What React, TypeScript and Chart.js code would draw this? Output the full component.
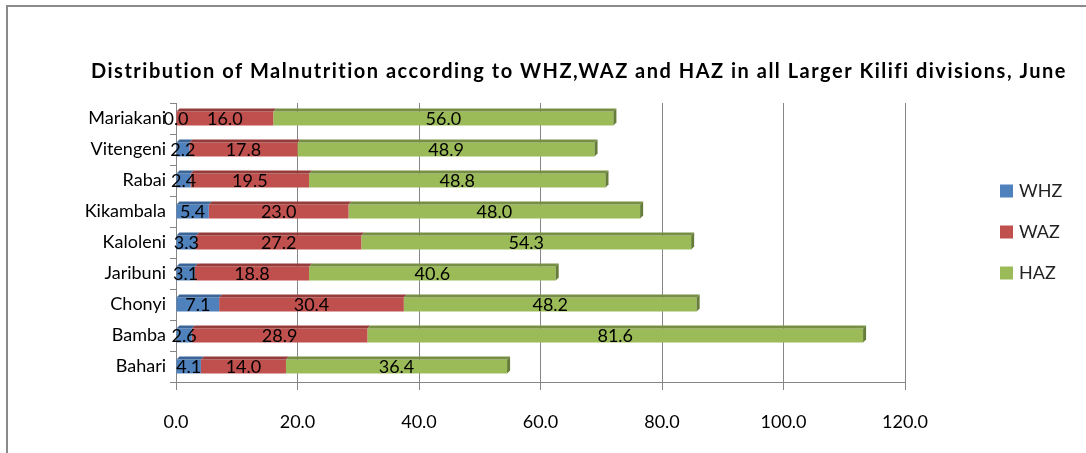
import React, { useEffect, useRef } from "react";
import { Chart, registerables } from "chart.js";

Chart.register(...registerables);

const categories = ["Mariakani", "Vitengeni", "Rabai", "Kikambala", "Kaloleni", "Jaribuni", "Chonyi", "Bamba", "Bahari"];
const whzValues = [0.0, 2.2, 2.4, 5.4, 3.3, 3.1, 7.1, 2.6, 4.1];
const wazValues = [16.0, 17.8, 19.5, 23.0, 27.2, 18.8, 30.4, 28.9, 14.0];
const hazValues = [56.0, 48.9, 48.8, 48.0, 54.3, 40.6, 48.2, 81.6, 36.4];
const seriesNames = ["WHZ", "WAZ", "HAZ"];
const xTickValues = [0, 20, 40, 60, 80, 100, 120];
const titleText = "Distribution of Malnutrition according to WHZ,WAZ and HAZ in all Larger Kilifi divisions, June";

const faceColors = ["#4F81BD", "#C0504D", "#9BBB59"];
const topColors = ["#3B6497", "#953C3A", "#768F42"];
const sideColors = ["#33578A", "#833432", "#667C39"];

const FONT = "Lato, 'Liberation Sans', sans-serif";
const DEPTH = 3;

const threeDPlugin = {
  id: "threeD",
  afterDatasetsDraw(chart: any) {
    const ctx = chart.ctx;
    ctx.save();
    chart.data.datasets.forEach((ds: any, di: number) => {
      const meta = chart.getDatasetMeta(di);
      meta.data.forEach((el: any) => {
        const p = el.getProps(["x", "y", "base", "height"], true);
        const x0 = Math.min(p.base, p.x);
        const x1 = Math.max(p.base, p.x);
        const top = p.y - p.height / 2;
        const bottom = p.y + p.height / 2;
        ctx.fillStyle = topColors[di];
        ctx.beginPath();
        ctx.moveTo(x0, top);
        ctx.lineTo(x0 + DEPTH, top - DEPTH);
        ctx.lineTo(x1 + DEPTH, top - DEPTH);
        ctx.lineTo(x1, top);
        ctx.closePath();
        ctx.fill();
        if (di === chart.data.datasets.length - 1) {
          ctx.fillStyle = sideColors[di];
          ctx.beginPath();
          ctx.moveTo(x1, top);
          ctx.lineTo(x1 + DEPTH, top - DEPTH);
          ctx.lineTo(x1 + DEPTH, bottom - DEPTH);
          ctx.lineTo(x1, bottom);
          ctx.closePath();
          ctx.fill();
        }
      });
    });
    ctx.restore();
  },
};

const labelsPlugin = {
  id: "valueLabels",
  afterDatasetsDraw(chart: any) {
    const ctx = chart.ctx;
    ctx.save();
    ctx.font = `18px ${FONT}`;
    ctx.fillStyle = "#000";
    ctx.textAlign = "center";
    ctx.textBaseline = "middle";
    chart.data.datasets.forEach((ds: any, di: number) => {
      const meta = chart.getDatasetMeta(di);
      meta.data.forEach((el: any, i: number) => {
        const p = el.getProps(["x", "y", "base"], true);
        ctx.fillText(Number(ds.data[i]).toFixed(1), (p.x + p.base) / 2, p.y + 1);
      });
    });
    ctx.restore();
  },
};

const titleLegendPlugin = {
  id: "titleLegend",
  afterDraw(chart: any) {
    const ctx = chart.ctx;
    const area = chart.chartArea;
    ctx.save();
    ctx.font = `bold 20px ${FONT}`;
    (ctx as any).letterSpacing = "1.5px";
    ctx.fillStyle = "#000";
    ctx.textAlign = "center";
    ctx.textBaseline = "middle";
    ctx.fillText(titleText, chart.width / 2 + 36, 72);
    (ctx as any).letterSpacing = "0px";

    ctx.font = `18px ${FONT}`;
    ctx.textAlign = "left";
    const cy = (area.top + area.bottom) / 2 - 11;
    const spacing = 41;
    chart.data.datasets.forEach((ds: any, di: number) => {
      const y = cy + (di - 1) * spacing;
      const x = area.right + 95;
      ctx.fillStyle = faceColors[di];
      ctx.fillRect(x, y - 6, 13, 13);
      ctx.fillStyle = "#222";
      ctx.fillText(ds.label, x + 19, y + 1);
    });
    ctx.restore();
  },
};

export default function App() {
  const canvasRef = useRef<HTMLCanvasElement | null>(null);

  useEffect(() => {
    const canvas = canvasRef.current;
    if (!canvas) return;
    const seriesValues = [whzValues, wazValues, hazValues];
    const chart = new Chart(canvas, {
      type: "bar",
      data: {
        labels: categories,
        datasets: seriesNames.map((name, i) => ({
          label: name,
          data: seriesValues[i],
          backgroundColor: faceColors[i],
          borderWidth: 0,
          categoryPercentage: 1,
          barPercentage: 0.45,
        })),
      },
      options: {
        indexAxis: "y",
        responsive: false,
        animation: false,
        layout: { padding: { top: 103, right: 181, bottom: 0, left: 0 } },
        plugins: {
          legend: { display: false },
          title: { display: false },
          tooltip: { enabled: false },
        },
        scales: {
          x: {
            stacked: true,
            min: 0,
            max: 120,
            afterBuildTicks: (scale: any) => {
              scale.ticks = xTickValues.map((v) => ({ value: v }));
            },
            afterFit: (scale: any) => {
              scale.height = 71;
            },
            grid: { color: "#868686", lineWidth: 1, tickLength: 8, drawOnChartArea: true },
            border: { display: true, color: "#868686" },
            ticks: {
              padding: 21,
              color: "#000",
              font: { family: FONT, size: 18 },
              callback: (v: any) => Number(v).toFixed(1),
            },
          },
          y: {
            stacked: true,
            afterFit: (scale: any) => {
              scale.width = 176;
            },
            grid: { color: "#868686", drawOnChartArea: false, tickLength: 6, offset: true },
            border: { display: true, color: "#868686" },
            ticks: {
              padding: 4,
              color: "#000",
              font: { family: FONT, size: 18 },
            },
          },
        },
      },
      plugins: [threeDPlugin, labelsPlugin, titleLegendPlugin],
    } as any);
    return () => chart.destroy();
  }, []);

  return (
    <div style={{ position: "fixed", left: 0, top: 0, width: 1086, height: 453, overflow: "hidden", background: "#fff" }}>
      <div
        style={{
          position: "absolute",
          left: 6,
          top: 5,
          width: 1200,
          height: 600,
          border: "2px solid #8a8a8a",
        }}
      />
      <canvas ref={canvasRef} width={1086} height={453} style={{ position: "absolute", left: 0, top: 0 }} />
    </div>
  );
}
